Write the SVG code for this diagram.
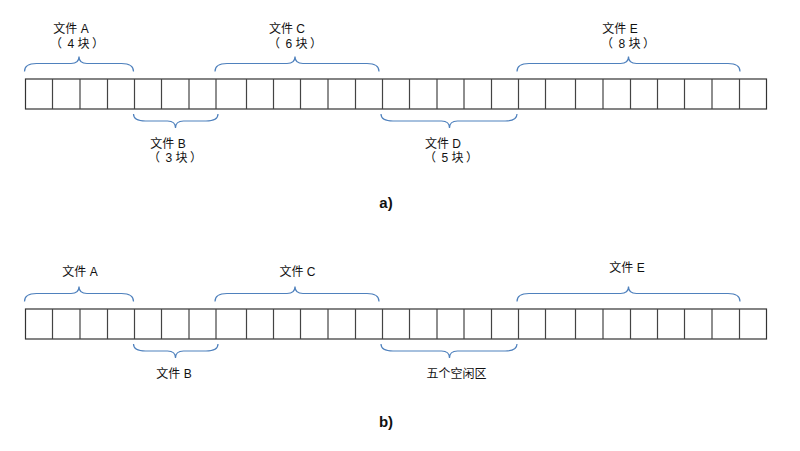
<svg xmlns="http://www.w3.org/2000/svg" width="800" height="451" viewBox="0 0 800 451">
<style>
.cell{fill:#fff;stroke:#333;stroke-width:1.2}
.div{stroke:#444;stroke-width:1.2}
.brace{fill:none;stroke:#4F81BD;stroke-width:1.2}
.t{font-family:"Liberation Sans","Noto Sans CJK SC",sans-serif;font-size:12px;fill:#111;text-anchor:middle}
.p{font-family:"Liberation Sans","Noto Sans CJK SC",sans-serif;font-size:12px;fill:#111}
.lab{font-family:"Liberation Sans",Arial,sans-serif;font-size:15px;font-weight:bold;fill:#111;text-anchor:middle}
</style>
<defs>
<g id="strip">
<rect class="cell" x="25.5" y="0" width="741" height="30"/>
<path class="div" d="M52.5 0V30M80 0V30M107.5 0V30M134.5 0V30M161.5 0V30M189 0V30M216 0V30M246.5 0V30M273.5 0V30M300.5 0V30M328 0V30M355.5 0V30M382.5 0V30M409.5 0V30M437 0V30M464 0V30M491.5 0V30M518.5 0V30M545.5 0V30M575.5 0V30M603 0V30M630.5 0V30M657.5 0V30M684.5 0V30M712 0V30M739.5 0V30"/>
</g>
</defs>
<g id="diagram-a">
<g id="strip-a"><use href="#strip" transform="translate(0,79)"/></g>
<g id="braces-a">
<path class="brace" d="M24.5 71.5C24.5 65.5 28.5 63.5 36.5 63.5L71 63.5C76 63.5 79 61.5 79 56.5C79 61.5 82 63.5 87 63.5L121.5 63.5C129.5 63.5 133.5 65.5 133.5 71.5"/>
<path class="brace" d="M133.5 114C133.5 119 137.5 121 145.5 121L167.5 121C172.5 121 175.5 123 175.5 128C175.5 123 178.5 121 183.5 121L206 121C214 121 218 119 218 114"/>
<path class="brace" d="M215 71.5C215 65.5 219 63.5 227 63.5L287 63.5C292 63.5 295 61.5 295 56.5C295 61.5 298 63.5 303 63.5L367 63.5C375 63.5 379 65.5 379 71.5"/>
<path class="brace" d="M381 114C381 119 385 121 393 121L441.5 121C446.5 121 449.5 123 449.5 128C449.5 123 452.5 121 457.5 121L505 121C513 121 517 119 517 114"/>
<path class="brace" d="M517 71.5C517 65.5 521 63.5 529 63.5L620.5 63.5C625.5 63.5 628.5 61.5 628.5 56.5C628.5 61.5 631.5 63.5 636.5 63.5L728 63.5C736 63.5 740 65.5 740 71.5"/>
</g>
<g id="file-a-A"><text class="t" x="71" y="33">文件 A</text><text class="p" y="48"><tspan x="50">（</tspan><tspan x="67.5">4</tspan><tspan x="77.5">块</tspan><tspan x="92">）</tspan></text></g>
<g id="file-a-B"><text class="t" x="168" y="147.5">文件 B</text><text class="p" y="161.5"><tspan x="148">（</tspan><tspan x="165.5">3</tspan><tspan x="175.5">块</tspan><tspan x="190">）</tspan></text></g>
<g id="file-a-C"><text class="t" x="287" y="33">文件 C</text><text class="p" y="48"><tspan x="268">（</tspan><tspan x="285.5">6</tspan><tspan x="295.5">块</tspan><tspan x="310">）</tspan></text></g>
<g id="file-a-D"><text class="t" x="443" y="147.5">文件 D</text><text class="p" y="161.5"><tspan x="424">（</tspan><tspan x="441.5">5</tspan><tspan x="451.5">块</tspan><tspan x="466">）</tspan></text></g>
<g id="file-a-E"><text class="t" x="620" y="33">文件 E</text><text class="p" y="48"><tspan x="601">（</tspan><tspan x="618.5">8</tspan><tspan x="628.5">块</tspan><tspan x="643">）</tspan></text></g>
<text class="lab" x="386" y="208">a)</text>
</g>
<g id="diagram-b">
<g id="strip-b"><use href="#strip" transform="translate(0,309)"/></g>
<g id="braces-b" transform="translate(0,230)">
<path class="brace" d="M24.5 71.5C24.5 65.5 28.5 63.5 36.5 63.5L71 63.5C76 63.5 79 61.5 79 56.5C79 61.5 82 63.5 87 63.5L121.5 63.5C129.5 63.5 133.5 65.5 133.5 71.5"/>
<path class="brace" d="M133.5 114C133.5 119 137.5 121 145.5 121L167.5 121C172.5 121 175.5 123 175.5 128C175.5 123 178.5 121 183.5 121L206 121C214 121 218 119 218 114"/>
<path class="brace" d="M215 71.5C215 65.5 219 63.5 227 63.5L287 63.5C292 63.5 295 61.5 295 56.5C295 61.5 298 63.5 303 63.5L367 63.5C375 63.5 379 65.5 379 71.5"/>
<path class="brace" d="M381 114C381 119 385 121 393 121L441.5 121C446.5 121 449.5 123 449.5 128C449.5 123 452.5 121 457.5 121L505 121C513 121 517 119 517 114"/>
<path class="brace" d="M517 71.5C517 65.5 521 63.5 529 63.5L620.5 63.5C625.5 63.5 628.5 61.5 628.5 56.5C628.5 61.5 631.5 63.5 636.5 63.5L728 63.5C736 63.5 740 65.5 740 71.5"/>
</g>
<g id="file-b-A"><text class="t" x="80" y="276">文件 A</text></g>
<g id="file-b-B"><text class="t" x="174" y="378">文件 B</text></g>
<g id="file-b-C"><text class="t" x="297.5" y="276">文件 C</text></g>
<g id="free-b"><text class="t" x="456.5" y="378">五个空闲区</text></g>
<g id="file-b-E"><text class="t" x="627" y="272">文件 E</text></g>
<text class="lab" x="386" y="427">b)</text>
</g>
</svg>
